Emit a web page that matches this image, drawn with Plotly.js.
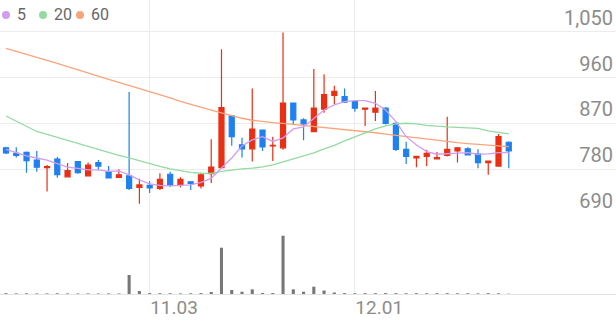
<!DOCTYPE html>
<html>
<head>
<meta charset="utf-8">
<script src="https://cdn.plot.ly/plotly-3.0.1.min.js"></script>
<style>html,body{margin:0;padding:0;background:#fff;}#chart{width:616px;height:321px;}</style>
</head>
<body>
<div id="chart"></div>
<script>
const dates = ["10.14","10.15","10.16","10.17","10.20","10.21","10.22","10.23","10.24","10.27",
  "10.28","10.29","10.30","10.31","11.03","11.04","11.05","11.06","11.07","11.10",
  "11.11","11.12","11.13","11.14","11.17","11.18","11.19","11.20","11.21","11.24",
  "11.25","11.26","11.27","11.28","12.01","12.02","12.03","12.04","12.05","12.08",
  "12.09","12.10","12.11","12.12","12.15","12.16","12.17","12.18","12.19","12.22"];
const open  = [822,811,813,798,783,800,765,795,767,793, 775,764,767,744,748,742,770,749,755,747,
  771,783,885,828,820,857,826,822,910,877, 854,898,925,923,913,898,892,900,870,819,
  802,805,800,807,816,820,810,793,786,833];
const high  = [824,823,815,816,788,804,792,796,793,798, 786,780,932,761,756,772,775,764,756,773,
  839,1016,886,842,939,857,844,1049,910,880, 977,967,944,939,916,901,934,902,872,834,
  805,818,814,883,823,823,819,797,849,835];
const low   = [810,803,773,775,736,763,764,771,766,778, 762,763,739,712,733,739,745,744,739,742,
  753,782,826,803,795,816,796,818,867,837, 853,891,908,910,893,865,875,868,816,790,
  784,786,799,805,793,807,782,769,786,782];
const close = [812,807,797,784,785,769,777,773,788,786, 763,769,742,749,743,760,749,760,752,769,
  784,901,844,820,859,824,827,910,877,869, 900,927,933,912,900,900,900,870,819,805,
  805,811,803,819,822,808,793,796,844,816];
const volume = [8,6,7,6,6,7,6,5,6,5, 6,5,190,30,9,8,7,6,7,9,
  20,463,40,23,47,10,10,583,47,23, 73,35,15,9,7,8,8,9,8,7,
  8,7,8,8,7,7,6,8,7,3];
const ma5  = [819,812,806,802,798,791,784,781.5,778.5,778.5, 775.6,776.5,768.7,758.8,751,748,747,748,749,753.9,
  761.8,782.4,802.1,825.7,837.5,844,834.6,841.5,859.2,863.1, 879.8,896.5,906.4,912.9,914.8,914.8,909.7,896.5,873.5,844,
  827.7,814.5,809.4,810,811.4,812.5,809.4,810,812.5,812.5];
const ma20 = [884.7,874.9,864.1,854.2,848.3,842.4,835.6,829.7,823.8,818.8, 812.9,807,802.1,796.2,790.3,785.4,780.5,776.5,773.6,772,
  771.6,775.6,778.5,780.5,781.9,784.4,788.4,794.3,800.2,805.1, 812,819.8,826.7,835.6,843.4,851.3,859.2,865.1,869,870.4,
  869,866,864.1,863.1,862.1,861.1,860.1,855.2,851.7,849.3];
const ma60 = [1017.9,1011.6,1005.7,999.8,993.9,988,981.5,975.2,968.7,962.4, 956.5,950.6,944.7,938.8,931.9,926,920.1,913.6,907.4,901.5,
  896.1,890.6,885.1,880.2,876.3,873.5,871.6,870,868,866.2, 864.5,862.3,860.3,858.4,856.2,854.2,851.7,848.9,846.4,844,
  841.9,839.5,837.1,834.6,832.2,830.4,829.1,827.7,825.7,824.3];
const priceTicks = [690,780,870,960,1050];
const priceTickText = ["690","780","870","960","1,050"];
const dateTicks = ["11.03","12.01"];
const maNames = ["5","20","60"];
const maColors = ["#d39cf0","#93dba0","#f8a47d"];

const RED = "#e92f14", BLUE = "#1f80f0";
const volFrac = 79/294;

const traces = [
  {type:"scatter", mode:"lines", x:dates, y:ma60, line:{color:maColors[2], width:1.3}, hoverinfo:"skip"},
  {type:"scatter", mode:"lines", x:dates, y:ma20, line:{color:maColors[1], width:1.3}, hoverinfo:"skip"},
  {type:"scatter", mode:"lines", x:dates, y:ma5, line:{color:maColors[0], width:1.3}, hoverinfo:"skip"},
  {type:"candlestick", x:dates, open:open, high:high, low:low, close:close,
   increasing:{line:{color:RED, width:1.2}, fillcolor:RED},
   decreasing:{line:{color:BLUE, width:1.2}, fillcolor:BLUE},
   whiskerwidth:0, hoverinfo:"skip"},
  {type:"bar", x:dates, y:volume, yaxis:"y2", marker:{color:"#777777"}, width:0.3, hoverinfo:"skip"}
];

const legendX = [2, 39, 76];
const shapes = [], annotations = [];
maNames.forEach((n,i)=>{
  const cx = legendX[i];
  shapes.push({type:"circle", xref:"paper", yref:"paper",
    x0:cx/616, x1:(cx+8)/616, y0:1-19/294, y1:1-11/294,
    fillcolor:maColors[i], line:{width:0}});
  annotations.push({xref:"paper", yref:"paper", x:(cx+13)/616, y:1-15/294, xanchor:"left", yanchor:"middle",
    text:n, showarrow:false, font:{family:"Roboto", size:16, color:"#666"}});
});

const layout = {
  width:616, height:321,
  margin:{l:0, r:0, t:0, b:27},
  paper_bgcolor:"#fff", plot_bgcolor:"#fff",
  showlegend:false,
  boxgap:0.3, boxgroupgap:0.3,
  font:{family:"Roboto", color:"#8c8c8c"},
  xaxis:{type:"category", range:[-0.585, 59.45], anchor:"y2",
    tickmode:"array", tickvals:dateTicks, ticks:"", showgrid:true, gridcolor:"#ececec", gridwidth:1,
    ticklabelposition:"outside right", ticklabelstandoff:-4,
    tickfont:{family:"Roboto", size:19, color:"#8c8c8c"},
    showline:true, linecolor:"#e3e3e3", linewidth:1, zeroline:false,
    rangeslider:{visible:false}, fixedrange:true},
  yaxis:{domain:[volFrac,1], range:[689.8,1112.95], side:"right",
    tickmode:"array", tickvals:priceTicks, ticktext:priceTickText, ticks:"",
    ticklabelposition:"inside top", tickfont:{family:"Roboto", size:20, color:"#8c8c8c"},
    showgrid:true, gridcolor:"#ececec", gridwidth:1, zeroline:false, showline:false, fixedrange:true},
  yaxis2:{domain:[0,volFrac], range:[0,790], showgrid:false, showticklabels:false, zeroline:false, ticks:"", fixedrange:true},
  shapes:shapes, annotations:annotations
};

Plotly.newPlot("chart", traces, layout, {staticPlot:true, displayModeBar:false});
</script>
</body>
</html>
